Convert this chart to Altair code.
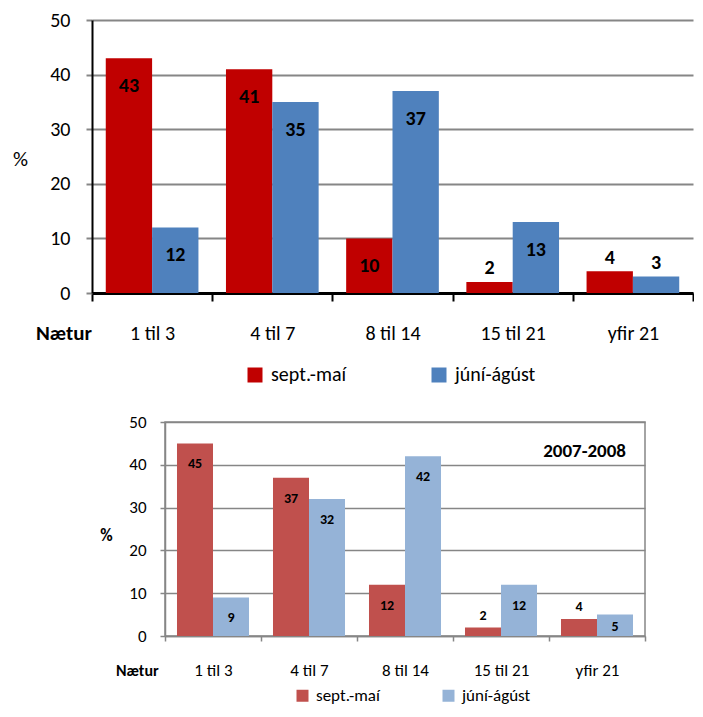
import altair as alt
import pandas as pd

categories = ["1 til 3", "4 til 7", "8 til 14", "15 til 21", "yfir 21"]
series = ["sept.-maí", "júní-ágúst"]
top_sept_mai = [43, 41, 10, 2, 4]
top_juni_agust = [12, 35, 37, 13, 3]
bottom_sept_mai = [45, 37, 12, 2, 4]
bottom_juni_agust = [9, 32, 42, 12, 5]
y_ticks = [0, 10, 20, 30, 40, 50]
x_title = "Nætur"
y_title = "%"
period_note = "2007-2008"

FONT = "Carlito, Calibri, Lato, sans-serif"


def frame(a, b):
    rows = []
    for c, v in zip(categories, a):
        rows.append({"Nætur": c, "Tímabil": series[0], "Hlutfall": v})
    for c, v in zip(categories, b):
        rows.append({"Nætur": c, "Tímabil": series[1], "Hlutfall": v})
    return pd.DataFrame(rows)


# ---------------- top chart ----------------
W1, H1 = 601, 273
top_df = frame(top_sept_mai, top_juni_agust)

x1 = alt.X("Nætur:N", sort=categories,
           scale=alt.Scale(paddingInner=0, paddingOuter=0),
           axis=alt.Axis(title=None, tickBand="extent", labelAngle=0,
                         labelFont=FONT, labelFontSize=20, labelColor="black",
                         labelPadding=22, tickSize=8, tickColor="black", tickWidth=2,
                         domainColor="black", domainWidth=3, grid=False))
xo1 = alt.XOffset("Tímabil:N", sort=series,
                  scale=alt.Scale(paddingOuter=0.297, paddingInner=0))
yaxis1 = alt.Axis(values=y_ticks, title=y_title, titleAngle=0,
                  titleX=-72, titleY=139, titleAlign="center",
                  titleBaseline="middle", titleFont=FONT, titleFontSize=21,
                  titleFontWeight="normal", titleColor="black",
                  labelFont=FONT, labelFontSize=20, labelColor="black",
                  labelPadding=16, tickSize=6, tickColor="#868686", tickWidth=2,
                  domainColor="black", domainWidth=2,
                  gridColor="#868686", gridWidth=2)
yscale = alt.Scale(domain=[0, 50], nice=False)
color1 = alt.Color("Tímabil:N",
                   scale=alt.Scale(domain=series, range=["#C00000", "#4F81BD"]),
                   legend=alt.Legend(orient="none", legendX=153, legendY=345,
                                     direction="horizontal", title=None,
                                     symbolType="square", symbolSize=225,
                                     symbolStrokeWidth=0, labelFont=FONT,
                                     labelFontSize=20, labelColor="black",
                                     labelOffset=6, columnPadding=82, padding=0))

bars1 = alt.Chart(top_df).mark_bar().encode(
    x=x1, xOffset=xo1, y=alt.Y("Hlutfall:Q", scale=yscale, axis=yaxis1), color=color1)
labels1 = alt.Chart(top_df).transform_calculate(
    ly="datum.Hlutfall >= 5 ? max(datum.Hlutfall - 5.1, datum.Hlutfall * 0.4) : datum.Hlutfall + 2.5"
).mark_text(font=FONT, fontSize=20, fontWeight="bold", color="black",
            baseline="middle").encode(
    x=x1, xOffset=xo1, y=alt.Y("ly:Q", scale=yscale, axis=yaxis1), text="Hlutfall:Q")
nt1 = alt.Chart(pd.DataFrame({"t": [x_title]})).mark_text(
    font=FONT, fontSize=21, fontWeight="bold", color="black",
    align="left", baseline="middle").encode(
    x=alt.value(-56), y=alt.value(H1 + 41), text="t:N")

top = alt.layer(bars1, labels1, nt1).properties(
    width=W1, height=H1, view=alt.ViewBackground(stroke=None))

# ---------------- bottom chart ----------------
W2, H2 = 480, 214
bot_df = frame(bottom_sept_mai, bottom_juni_agust)
G = "#868686"

x2 = alt.X("Nætur:N", sort=categories,
           scale=alt.Scale(paddingInner=0, paddingOuter=0),
           axis=alt.Axis(title=None, tickBand="extent", labelAngle=0,
                         labelFont=FONT, labelFontSize=17, labelColor="black",
                         labelPadding=21, tickSize=5, tickColor=G, tickWidth=1.5,
                         domainColor=G, domainWidth=1.5, grid=False))
xo2 = alt.XOffset("Tímabil:N", sort=series,
                  scale=alt.Scale(paddingOuter=0.333, paddingInner=0))
yaxis2 = alt.Axis(values=y_ticks, title=y_title, titleAngle=0,
                  titleX=-59, titleY=113, titleAlign="center",
                  titleBaseline="middle", titleFont=FONT, titleFontSize=17,
                  titleFontWeight="bold", titleColor="black",
                  labelFont=FONT, labelFontSize=17, labelColor="black",
                  labelPadding=14, tickSize=5, tickColor=G, tickWidth=1.5,
                  domainColor=G, domainWidth=1.5,
                  gridColor=G, gridWidth=1.5)
color2 = alt.Color("Tímabil:N",
                   scale=alt.Scale(domain=series, range=["#C0504D", "#95B3D7"]),
                   legend=alt.Legend(orient="none", legendX=129, legendY=265,
                                     direction="horizontal", title=None,
                                     symbolType="square", symbolSize=144,
                                     symbolStrokeWidth=0, labelFont=FONT,
                                     labelFontSize=17, labelColor="black",
                                     labelOffset=5, columnPadding=60, padding=0))

bars2 = alt.Chart(bot_df).mark_bar().encode(
    x=x2, xOffset=xo2, y=alt.Y("Hlutfall:Q", scale=yscale, axis=yaxis2), color=color2)
labels2 = alt.Chart(bot_df).transform_calculate(
    ly="datum.Hlutfall >= 5 ? max(datum.Hlutfall - 4.9, datum.Hlutfall * 0.4) : datum.Hlutfall + 2.7"
).mark_text(font=FONT, fontSize=14, fontWeight="bold", color="black",
            baseline="middle").encode(
    x=x2, xOffset=xo2, y=alt.Y("ly:Q", scale=yscale, axis=yaxis2), text="Hlutfall:Q")
nt2 = alt.Chart(pd.DataFrame({"t": [x_title]})).mark_text(
    font=FONT, fontSize=16, fontWeight="bold", color="black",
    align="left", baseline="middle").encode(
    x=alt.value(-49), y=alt.value(H2 + 35), text="t:N")
note2 = alt.Chart(pd.DataFrame({"t": [period_note]})).mark_text(
    font=FONT, fontSize=19, fontWeight="bold", color="black",
    align="right", baseline="middle").encode(
    x=alt.value(W2 - 19), y=alt.value(29), text="t:N")

bottom = alt.layer(bars2, labels2, nt2, note2).properties(
    width=W2, height=H2, view=alt.ViewBackground(stroke=G, strokeWidth=1.5))

spacer = alt.Chart(pd.DataFrame({"t": [0]})).mark_point(opacity=0).encode(
    x=alt.value(0), y=alt.value(0)).properties(
    width=7, height=1, view=alt.ViewBackground(stroke=None))

bottom_row = alt.hconcat(spacer, bottom, spacing=0).resolve_scale(
    color="independent", x="independent", y="independent",
    xOffset="independent").resolve_legend(color="independent")

chart = alt.vconcat(top, bottom_row, spacing=27).resolve_scale(
    color="independent", x="independent", y="independent",
    xOffset="independent").resolve_legend(color="independent").properties(
    padding={"left": 4, "top": 2, "right": 0, "bottom": 0},
    background="white")

chart.save("out.html", embed_options={"renderer": "svg", "actions": False})
